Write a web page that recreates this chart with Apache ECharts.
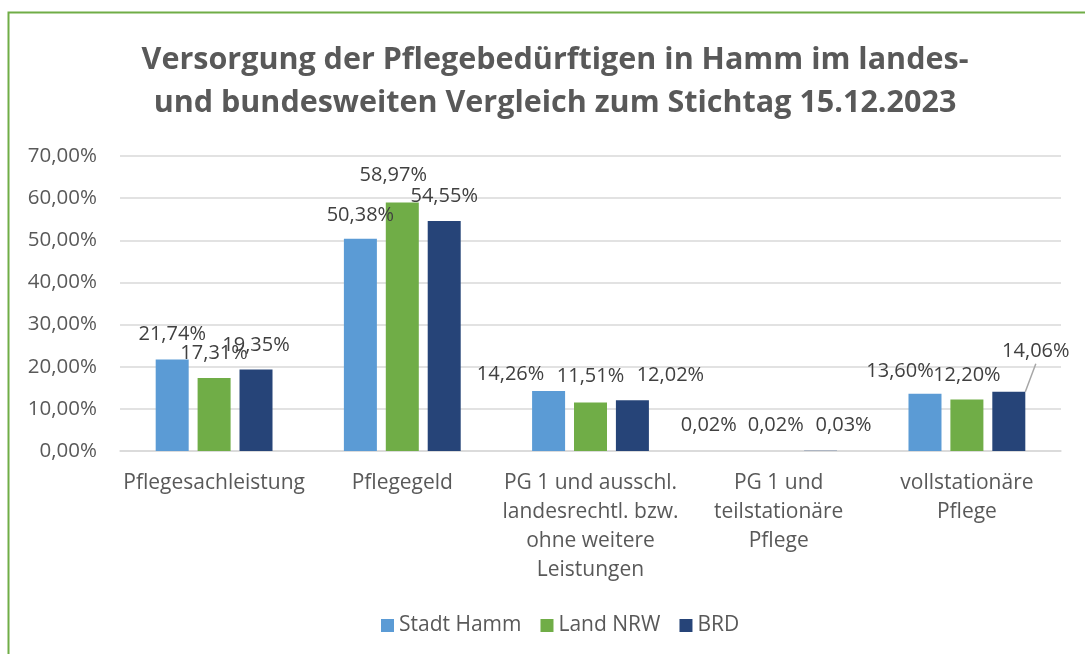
<!DOCTYPE html>
<html>
<head>
<meta charset="utf-8">
<script src="https://cdn.jsdelivr.net/npm/echarts@6/dist/echarts.min.js"></script>
<style>html,body{margin:0;padding:0;background:#fff;}#c{width:1085px;height:654px;}</style>
</head>
<body>
<div id="c"></div>
<script>
const titleText = 'Versorgung der Pflegebedürftigen in Hamm im landes-\nund bundesweiten Vergleich zum Stichtag 15.12.2023';
const categories = ['Pflegesachleistung', 'Pflegegeld', 'PG 1 und ausschl.\nlandesrechtl. bzw.\nohne weitere\nLeistungen', 'PG 1 und\nteilstationäre\nPflege', 'vollstationäre\nPflege'];
const seriesNames = ['Stadt Hamm', 'Land NRW', 'BRD'];
const stadtHamm = [21.74, 50.38, 14.26, 0.02, 13.60];
const landNRW = [17.31, 58.97, 11.51, 0.02, 12.20];
const brd = [19.35, 54.55, 12.02, 0.03, 14.06];
const yTicks = [0, 10, 20, 30, 40, 50, 60, 70];

// label displacement (dx, dy) per series / category, as in the reference
const labelShift = [
  [[0,-8],[0,-6],[-38,0],[-28,-9],[-25,-5]],
  [[0,-8],[-9,-10],[0,-9],[-3,-9],[0,-7]],
  [[0,-7],[0,-8],[38,-8],[23,-9],[27,-23]]
];
// only this label gets a leader line (series, category)
const leaderLine = [2, 4];
const colors = ['#5B9BD5', '#70AD47', '#264478'];
const fmt = v => v.toFixed(2).replace('.', ',') + '%';
const FONT = 'Open Sans';

const chart = echarts.init(document.getElementById('c'));
const dataSets = [stadtHamm, landNRW, brd];
const series = dataSets.map((d, si) => ({
  name: seriesNames[si],
  type: 'bar',
  data: d.map((v, i) => ({
    value: v,
    labelLine: { show: si === leaderLine[0] && i === leaderLine[1] }
  })),
  barWidth: 33,
  barGap: '27%',
  itemStyle: { color: colors[si] },
  label: {
    show: true, position: 'top', distance: 5,
    fontFamily: FONT, fontSize: 20, lineHeight: 24, color: '#404040',
    formatter: p => fmt(p.value)
  },
  labelLine: { show: false, lineStyle: { color: '#a6a6a6', width: 1.5 } },
  labelLayout: p => ({ dx: labelShift[si][p.dataIndex][0], dy: labelShift[si][p.dataIndex][1] })
}));

chart.setOption({
  animation: false,
  backgroundColor: '#fff',
  title: {
    text: titleText, left: 550, top: 34, textAlign: 'center',
    textStyle: { fontFamily: FONT, fontSize: 30.5, fontWeight: 'bold', color: '#595959', lineHeight: 43 }
  },
  graphic: [{ type: 'rect', shape: { x: 8.5, y: 12.5, width: 1300, height: 900 }, style: { fill: 'none', stroke: '#70AD47', lineWidth: 2 }, silent: true }],
  legend: {
    data: seriesNames, top: 610, left: 376,
    icon: 'rect', itemWidth: 13, itemHeight: 13, itemGap: 19,
    textStyle: { fontFamily: FONT, fontSize: 21, color: '#595959' }
  },
  grid: { left: 120, right: 24, top: 156, bottom: 203, containLabel: false },
  xAxis: {
    type: 'category', data: categories,
    axisTick: { show: false },
    axisLine: { lineStyle: { color: '#d9d9d9', width: 1.5 } },
    axisLabel: { interval: 0, fontFamily: FONT, fontSize: 21, lineHeight: 29, color: '#595959', margin: 18 }
  },
  yAxis: {
    type: 'value', min: yTicks[0], max: yTicks[yTicks.length - 1], interval: 10,
    axisLine: { show: false }, axisTick: { show: false },
    splitLine: { lineStyle: { color: '#d9d9d9', width: 1.5 } },
    axisLabel: { fontFamily: FONT, fontSize: 20.5, color: '#595959', margin: 23, formatter: v => fmt(v) }
  },
  series: series
});
</script>
</body>
</html>
